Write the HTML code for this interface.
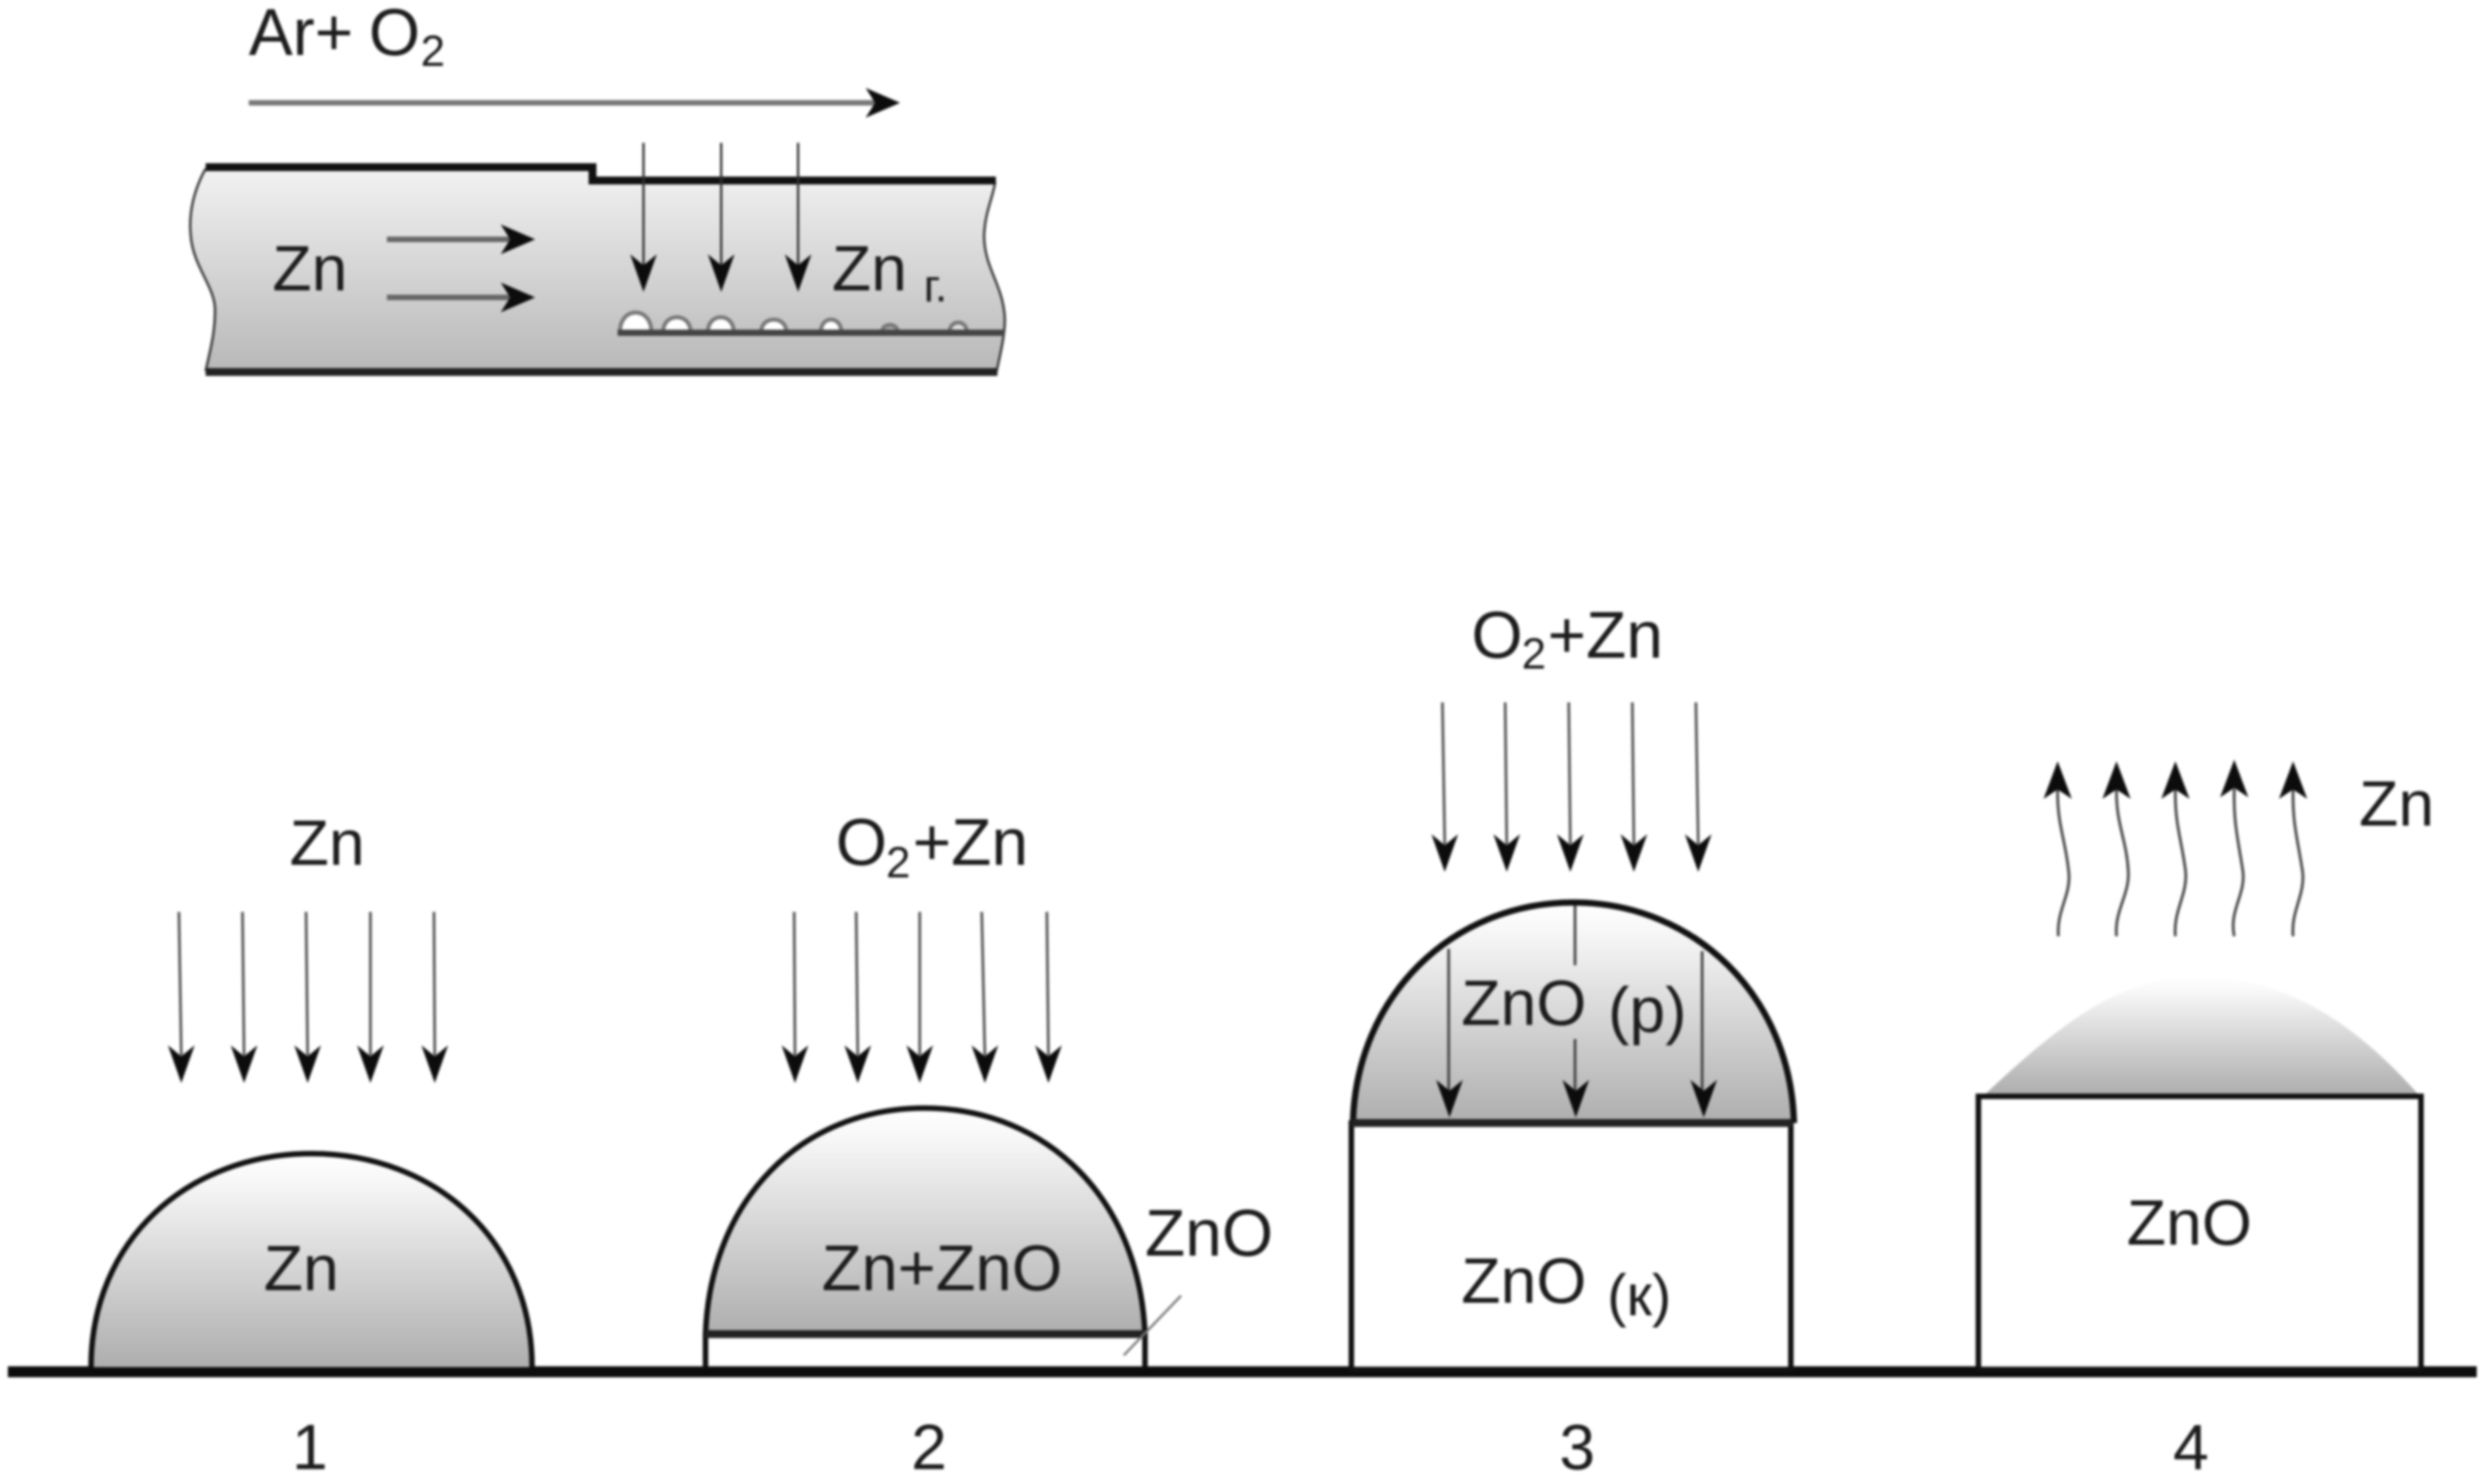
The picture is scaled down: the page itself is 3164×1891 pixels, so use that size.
<!DOCTYPE html>
<html><head><meta charset="utf-8"><style>
html,body{margin:0;padding:0;background:#fff;width:3164px;height:1891px;overflow:hidden}
svg{display:block;filter:blur(1.5px)}
text{font-family:"Liberation Sans",sans-serif;font-size:82px;fill:#1c1c1c}
.s{font-size:56px}
</style></head><body>
<svg xmlns="http://www.w3.org/2000/svg" width="3164" height="1891" viewBox="0 0 3164 1891">
<defs>
<linearGradient id="g" x1="0" y1="0" x2="0" y2="1"><stop offset="0" stop-color="#fff"/><stop offset="0.12" stop-color="#f8f8f8"/><stop offset="1" stop-color="#aeaeae"/></linearGradient>
<linearGradient id="p" x1="0" y1="0" x2="0" y2="1"><stop offset="0" stop-color="#f2f2f2"/><stop offset="1" stop-color="#b8b8b8"/></linearGradient>
<polygon id="d" points="0,0 -17,-48 0,-34 17,-48" fill="#0c0c0c"/>
<polygon id="r" points="0,0 -44,-19 -32,0 -44,19" fill="#0c0c0c"/>
<polygon id="u" points="0,0 -18,48 0,36 18,48" fill="#0c0c0c"/>
</defs>

<!-- top pipe -->
<path d="M262,215 C248,240 240,270 243,300 C246,340 274,365 274,395 C274,425 268,445 262,473 L1270,473 C1276,445 1282,420 1280,400 C1276,360 1254,340 1254,300 C1255,270 1266,250 1268,232 L757,232 L757,215Z" fill="url(#p)"/>
<path d="M262,473 C268,445 274,425 274,395 C274,365 246,340 243,300 C240,270 248,240 262,215" fill="none" stroke="#333" stroke-width="3"/>
<path d="M1270,473 C1276,445 1282,420 1280,400 C1276,360 1254,340 1254,300 C1255,270 1266,250 1268,232" fill="none" stroke="#333" stroke-width="3"/>
<path d="M262,213 H755 V230 H1269" fill="none" stroke="#111" stroke-width="10"/>
<path d="M262,474 H1271" fill="none" stroke="#222" stroke-width="10"/>

<text x="317" y="70" style="font-size:84px">Ar+</text><text x="470" y="70" style="font-size:84px">O</text><text x="536" y="84" class="s">2</text>
<line x1="317" y1="131" x2="1120" y2="131" stroke="#777" stroke-width="7"/><use href="#r" x="1147" y="131"/>

<text x="347" y="370">Zn</text>
<line x1="493" y1="305" x2="650" y2="305" stroke="#666" stroke-width="7"/><use href="#r" x="682" y="305"/>
<line x1="493" y1="379" x2="650" y2="379" stroke="#666" stroke-width="7"/><use href="#r" x="682" y="379"/>

<g stroke="#333" stroke-width="3"><line x1="820" y1="182" x2="820" y2="345"/><line x1="919" y1="182" x2="919" y2="345"/><line x1="1017" y1="182" x2="1017" y2="345"/></g>
<use href="#d" x="820" y="372"/><use href="#d" x="919" y="372"/><use href="#d" x="1017" y="372"/>
<text x="1060" y="370">Zn</text><text x="1177" y="384" style="font-size:58px">г.</text>

<g fill="#fff" stroke="#777" stroke-width="5">
<path d="M790,423 C790,390 830,390 830,423Z"/>
<path d="M845,423 C845,398 880,398 880,423Z"/>
<path d="M902,423 C902,398 935,398 935,423Z"/>
<path d="M970,423 C970,402 1002,402 1002,423Z"/>
<path d="M1046,423 C1046,402 1072,402 1072,423Z"/>
<path d="M1124,423 C1124,411 1144,411 1144,423Z" fill="#aaa"/>
<path d="M1210,423 C1210,407 1232,407 1232,423Z" fill="#ddd"/>
</g>
<line x1="787" y1="424" x2="1280" y2="424" stroke="#444" stroke-width="8"/>

<!-- ground -->
<line x1="10" y1="1748" x2="3156" y2="1748" stroke="#0c0c0c" stroke-width="14"/>

<!-- stage 1 -->
<text x="369" y="1102">Zn</text>
<g stroke="#555" stroke-width="3.5"><line x1="228" y1="1162" x2="231" y2="1345"/><line x1="309" y1="1162" x2="311" y2="1345"/><line x1="390" y1="1162" x2="392" y2="1345"/><line x1="472" y1="1162" x2="472" y2="1345"/><line x1="553" y1="1162" x2="554" y2="1345"/></g>
<use href="#d" x="231" y="1380"/><use href="#d" x="311" y="1380"/><use href="#d" x="392" y="1380"/><use href="#d" x="472" y="1380"/><use href="#d" x="554" y="1380"/>
<path d="M116,1742 C116,1580 240,1470 397,1470 C554,1470 678,1580 678,1742Z" fill="url(#g)"/>
<path d="M116,1742 C116,1580 240,1470 397,1470 C554,1470 678,1580 678,1742" fill="none" stroke="#111" stroke-width="7"/>
<text x="336" y="1644">Zn</text>
<text x="372" y="1872">1</text>

<!-- stage 2 -->
<text x="1065" y="1102" style="font-size:84px">O</text><text x="1129" y="1118" class="s">2</text><text x="1163" y="1102" style="font-size:84px">+Zn</text>
<g stroke="#555" stroke-width="3.5"><line x1="1012" y1="1162" x2="1013" y2="1345"/><line x1="1091" y1="1162" x2="1093" y2="1345"/><line x1="1172" y1="1162" x2="1172" y2="1345"/><line x1="1251" y1="1162" x2="1255" y2="1345"/><line x1="1334" y1="1162" x2="1336" y2="1345"/></g>
<use href="#d" x="1013" y="1380"/><use href="#d" x="1093" y="1380"/><use href="#d" x="1172" y="1380"/><use href="#d" x="1255" y="1380"/><use href="#d" x="1336" y="1380"/>
<path d="M899,1700 C905,1530 1020,1412 1178,1412 C1336,1412 1452,1530 1459,1700Z" fill="url(#g)"/>
<path d="M899,1742 V1700 C905,1530 1020,1412 1178,1412 C1336,1412 1452,1530 1459,1700 V1742" fill="none" stroke="#111" stroke-width="7"/>
<line x1="899" y1="1700" x2="1459" y2="1700" stroke="#222" stroke-width="10"/>
<text x="1047" y="1644" style="font-size:83px">Zn+ZnO</text>
<text x="1459" y="1600" style="font-size:84px">ZnO</text>
<line x1="1505" y1="1651" x2="1432" y2="1727" stroke="#777" stroke-width="3"/>
<text x="1161" y="1872">2</text>

<!-- stage 3 -->
<text x="1875" y="838" style="font-size:84px">O</text><text x="1939" y="852" class="s">2</text><text x="1972" y="838" style="font-size:84px">+Zn</text>
<g stroke="#555" stroke-width="3.5"><line x1="1838" y1="895" x2="1841" y2="1076"/><line x1="1918" y1="895" x2="1920" y2="1076"/><line x1="1999" y1="895" x2="2001" y2="1076"/><line x1="2080" y1="895" x2="2082" y2="1076"/><line x1="2161" y1="895" x2="2164" y2="1076"/></g>
<use href="#d" x="1841" y="1111"/><use href="#d" x="1920" y="1111"/><use href="#d" x="2001" y="1111"/><use href="#d" x="2082" y="1111"/><use href="#d" x="2164" y="1111"/>
<path d="M1724,1431 C1728,1270 1850,1150 2005,1150 C2160,1150 2282,1270 2286,1431Z" fill="url(#g)"/>
<path d="M1724,1431 C1728,1270 1850,1150 2005,1150 C2160,1150 2282,1270 2286,1431" fill="none" stroke="#111" stroke-width="8"/>
<rect x="1722" y="1431" width="560" height="314" fill="#fff" stroke="#111" stroke-width="7"/>
<line x1="1722" y1="1431" x2="2284" y2="1431" stroke="#222" stroke-width="10"/>
<g stroke="#444" stroke-width="3.5"><line x1="1846" y1="1209" x2="1846" y2="1390"/><line x1="2007" y1="1154" x2="2007" y2="1230"/><line x1="2007" y1="1324" x2="2007" y2="1390"/><line x1="2169" y1="1212" x2="2169" y2="1390"/></g>
<use href="#d" x="1847" y="1424"/><use href="#d" x="2008" y="1424"/><use href="#d" x="2171" y="1424"/>
<text x="1862" y="1306">ZnO</text><text x="2049" y="1315">(p)</text>
<text x="1862" y="1660">ZnO</text><text x="2048" y="1676" style="font-size:74px">(к)</text>
<text x="1987" y="1872">3</text>

<!-- stage 4 -->
<path d="M2530,1394 C2640,1290 2710,1245 2800,1245 C2890,1245 2980,1280 3081,1394Z" fill="url(#g)"/>
<rect x="2521" y="1397" width="564" height="348" fill="#fff" stroke="#111" stroke-width="7"/>
<text x="2710" y="1586">ZnO</text>
<text x="3006" y="1052">Zn</text>
<g fill="none" stroke="#444" stroke-width="3.5">
<path d="M2623,1193 C2620,1160 2640,1140 2636,1110 C2632,1070 2621,1050 2622,1005"/>
<path d="M2697,1193 C2694,1160 2714,1140 2712,1110 C2710,1070 2696,1050 2697,1005"/>
<path d="M2772,1193 C2769,1160 2788,1140 2785,1110 C2780,1070 2771,1050 2772,1005"/>
<path d="M2847,1193 C2840,1160 2862,1140 2858,1110 C2852,1070 2846,1050 2847,1005"/>
<path d="M2922,1193 C2919,1160 2938,1140 2934,1110 C2928,1070 2921,1050 2922,1005"/>
</g>
<use href="#u" x="2622" y="970"/><use href="#u" x="2697" y="970"/><use href="#u" x="2772" y="970"/><use href="#u" x="2847" y="968"/><use href="#u" x="2922" y="970"/>
<text x="2769" y="1872">4</text>
</svg>
</body></html>
